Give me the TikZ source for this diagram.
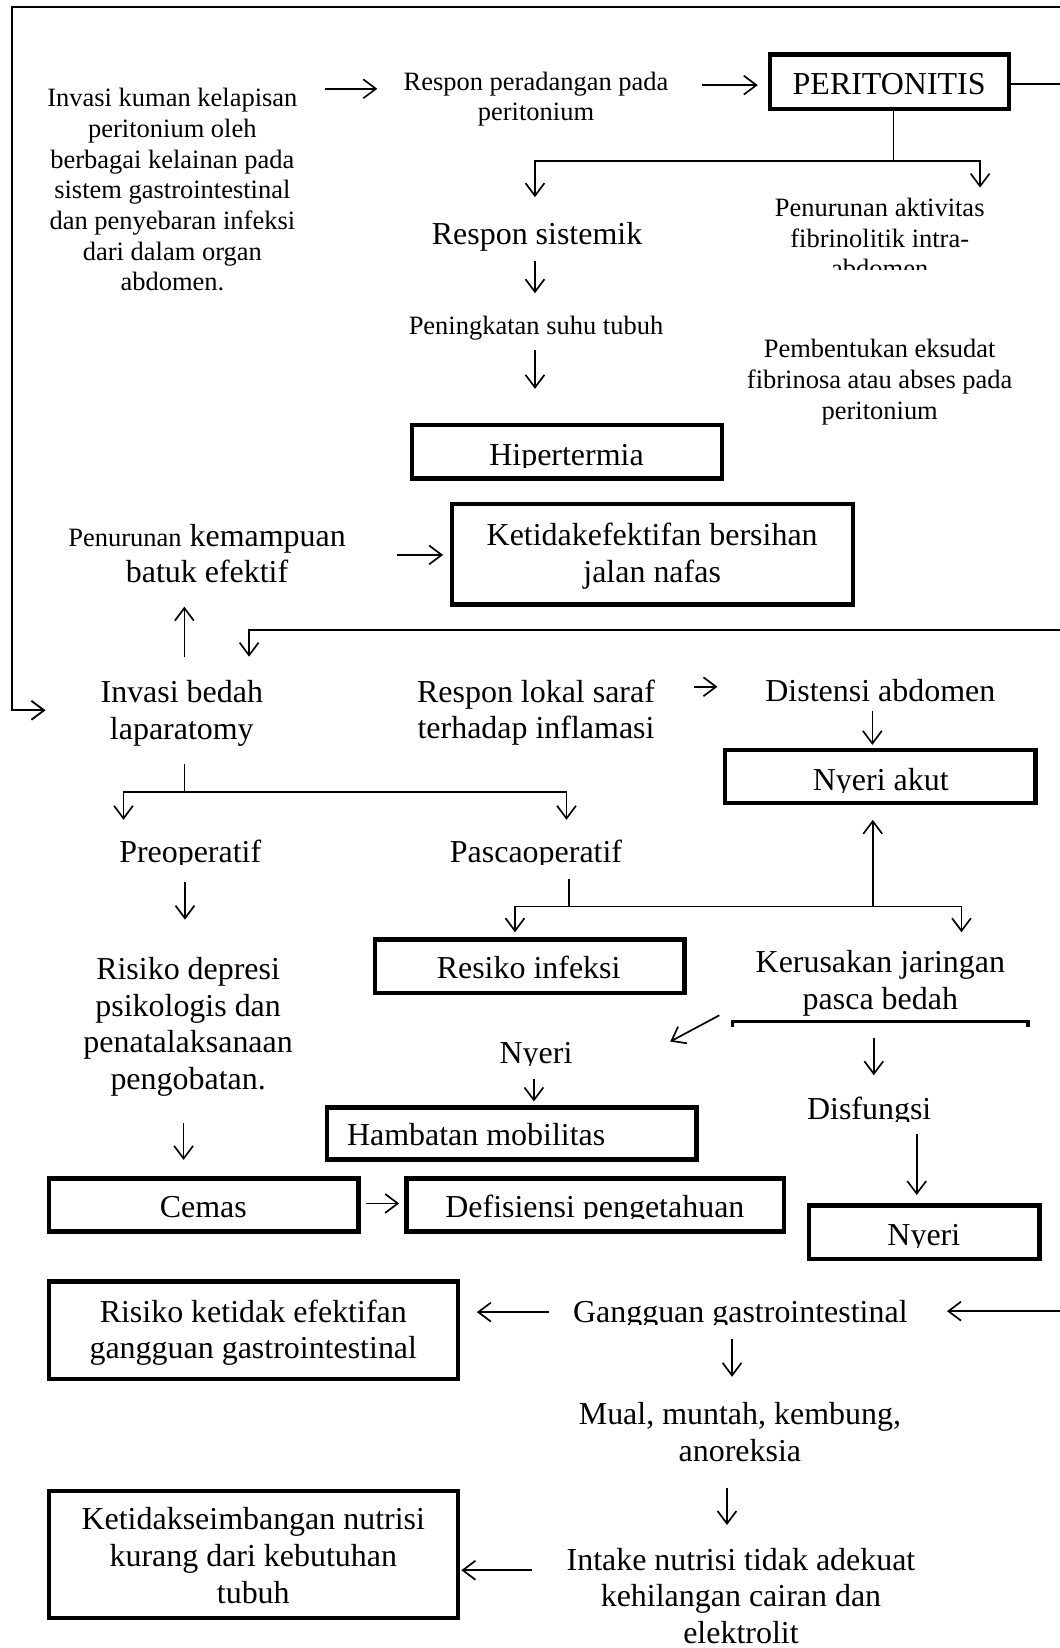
\documentclass[tikz,border=0pt]{standalone}
\usepackage{fontspec}
\setmainfont{Liberation Serif}
\usetikzlibrary{arrows.meta}
\begin{document}
\begin{tikzpicture}[x=1pt,y=-1pt,
  big/.style={font=\fontsize{30.4}{35}\selectfont, inner sep=0pt, align=center, yshift=-3pt,
    execute at begin node=\strut, execute at end node=\strut},
  small/.style={font=\fontsize{25.2}{29.2}\selectfont, inner sep=0pt, align=center, yshift=-3pt,
    execute at begin node=\strut, execute at end node=\strut},
  box/.style={draw, line width=4.2pt, inner sep=0pt},
  conn/.style={line width=1.6pt},
  arr/.style={conn, -{Straight Barb[length=12pt,width=18pt]}},
]
\fill[white] (0,0) rectangle (1008,1568);
\useasboundingbox (0,0) rectangle (1008,1568);

% ---------- boxes ----------
\node[box, minimum width=227.4pt, minimum height=52pt]   (peri)   at (846.5,77.8)  {};
\node[box, minimum width=295.4pt, minimum height=51pt]   (hiper)  at (539.5,429.8) {};
\node[box, minimum width=382pt,   minimum height=95.9pt] (ketid)  at (620.8,527.3) {};
\node[box, minimum width=295.4pt, minimum height=50.4pt] (nakut)  at (837.5,739)   {};
\node[box, minimum width=294.4pt, minimum height=51.1pt] (rinf)   at (504,919.4)   {};
\node[box, minimum width=351.9pt, minimum height=49.4pt] (hamb)   at (486.8,1078.5){};
\node[box, minimum width=294.1pt, minimum height=50.3pt] (cemas)  at (193.9,1146.5){};
\node[box, minimum width=359pt,   minimum height=50.3pt] (defis)  at (566.3,1146.5){};
\node[box, minimum width=219.3pt, minimum height=51pt]   (nyerib) at (879.5,1172.3){};
\node[box, minimum width=389pt,   minimum height=92.8pt] (rket)   at (241.3,1265.6){};
\node[box, minimum width=389pt,   minimum height=120.4pt](ketnut) at (241.3,1479)  {};

% ---------- texts ----------
\node[small] (tkuman) at (164,181.8) {Invasi kuman kelapisan\\peritonium oleh\\berbagai kelainan pada\\sistem gastrointestinal\\dan penyebaran infeksi\\dari dalam organ\\abdomen.};
\node[small] (tresper) at (510,93) {Respon peradangan pada\\peritonium};
\node[big] (tperi) at (846,80) {PERITONITIS};
\node[big] (tsist) at (511,223) {Respon sistemik};
\begin{scope}
  \clip (650,170) rectangle (1000,256);
  \node[small] (tfibr) at (837,227.7) {Penurunan aktivitas\\fibrinolitik intra-\\abdomen};
\end{scope}
\node[small] (tsuhu) at (510,309) {Peningkatan suhu tubuh};
\node[small] (teksu) at (837,362.4) {Pembentukan eksudat\\fibrinosa atau abses pada\\peritonium};
\begin{scope}
  \clip (400,405) rectangle (680,444.5);
  \node[big] (thiper) at (539,433) {Hipertermia};
\end{scope}
\node[big] (tbatuk) at (197,528.7) {{\fontsize{25.2}{29.2}\selectfont Penurunan} kemampuan\\batuk efektif};
\node[big] (tketid) at (620.5,528.3) {Ketidakefektifan bersihan\\jalan nafas};
\node[big] (tbedah) at (173,677.5) {Invasi bedah\\laparatomy};
\node[big] (tlokal) at (510,677) {Respon lokal saraf\\terhadap inflamasi};
\node[big] (tdist) at (837.6,657) {Distensi abdomen};
\begin{scope}
  \clip (700,715) rectangle (980,754);
  \node[big] (tnakut) at (838,742.5) {Nyeri akut};
\end{scope}
\begin{scope}
  \clip (60,780) rectangle (320,822.5);
  \node[big] (tpre) at (181,810.8) {Preoperatif};
\end{scope}
\begin{scope}
  \clip (400,780) rectangle (620,822.5);
  \node[big] (tpasca) at (510,810.8) {Pascaoperatif};
\end{scope}
\node[big] (tdepresi) at (179,975.9) {Risiko depresi\\psikologis dan\\penatalaksanaan\\pengobatan.};
\node[big] (trinf) at (503,921) {Resiko infeksi};
\node[big] (tkerus) at (837.6,934.8) {Kerusakan jaringan\\pasca bedah};
\begin{scope}
  \clip (440,975) rectangle (580,1013.5);
  \node[big] (tnyeria) at (510,1002) {Nyeri};
\end{scope}
\begin{scope}
  \clip (740,1025) rectangle (920,1067);
  \node[big] (tdisf) at (827,1055.6) {Disfungsi};
\end{scope}
\node[big] (thamb) at (453,1080) {Hambatan mobilitas};
\node[big] (tcemas) at (193.5,1148.5) {Cemas};
\begin{scope}
  \clip (390,1122) rectangle (745,1159.5);
  \node[big] (tdefis) at (566,1148) {Defisiensi pengetahuan};
\end{scope}
\begin{scope}
  \clip (775,1148) rectangle (985,1186.5);
  \node[big] (tnyerib) at (879,1175) {Nyeri};
\end{scope}
\node[big] (trket) at (241,1267) {Risiko ketidak efektifan\\gangguan gastrointestinal};
\begin{scope}
  \clip (530,1215) rectangle (880,1260);
  \node[big] (tgang) at (704.4,1248.4) {Gangguan gastrointestinal};
\end{scope}
\node[big] (tmual) at (704,1364.8) {Mual, muntah, kembung,\\anoreksia};
\node[big] (tketnut) at (241,1482) {Ketidakseimbangan nutrisi\\kurang dari kebutuhan\\tubuh};
\node[big] (tintake) at (705,1520.5) {Intake nutrisi tidak adekuat\\kehilangan cairan dan\\elektrolit};

% ---------- coordinates ----------
\coordinate (tr) at (1010,6.7);
\coordinate (tl) at (11,6.7);
\coordinate (lb) at (11,675.8);
\coordinate (lbtip) at (43.4,675.8);
\coordinate (a1s) at (309,84.5);   \coordinate (a1e) at (359,84.5);
\coordinate (a2s) at (668,81);     \coordinate (a2e) at (721,81);
\coordinate (pr) at (1010,80);
\coordinate (j1) at (850,153);
\coordinate (l1) at (509,153);     \coordinate (l1t) at (509,187.6);
\coordinate (r1) at (932.5,153);   \coordinate (r1t) at (932.5,178.5);
\coordinate (a5s) at (509,248);    \coordinate (a5e) at (509,279);
\coordinate (a6s) at (509,333);    \coordinate (a6e) at (509,370);
\coordinate (a7s) at (378,528);    \coordinate (a7e) at (421.6,528);
\coordinate (a8s) at (175.4,625.5);\coordinate (a8e) at (175.4,577.2);
\coordinate (r9) at (1010,599.3);  \coordinate (c9) at (237,599.3);  \coordinate (c9t) at (237,624.8);
\coordinate (a11s) at (660,653.4); \coordinate (a11e) at (682.6,653.4);
\coordinate (a12s) at (830,676.5); \coordinate (a12e) at (830,708.7);
\coordinate (b1) at (175.4,727);   \coordinate (b2) at (175.4,753.7);
\coordinate (bl) at (117.5,753.7); \coordinate (blt) at (117.5,780);
\coordinate (br) at (539,753.7);   \coordinate (brt) at (539,780);
\coordinate (a14s) at (176,839.6); \coordinate (a14e) at (176,875);
\coordinate (p1) at (541.4,836);   \coordinate (p2) at (541.4,862.4);
\coordinate (pl) at (490,862.4);   \coordinate (plt) at (490,887);
\coordinate (pr2) at (914.8,862.4);\coordinate (prt) at (914.8,887);
\coordinate (pu) at (830.4,862.4); \coordinate (put) at (830.4,780);
\coordinate (k1) at (697,977);     \coordinate (k2) at (697,972);
\coordinate (k3) at (978,972);     \coordinate (k4) at (978,977);
\coordinate (d1) at (684.4,966);   \coordinate (d1t) at (637.7,991);
\coordinate (a18s) at (831.4,987.5);\coordinate (a18e) at (831.4,1023);
\coordinate (a19s) at (508,1027);  \coordinate (a19e) at (508,1048);
\coordinate (a20s) at (872.2,1078.6);\coordinate (a20e) at (872.2,1137);
\coordinate (a21s) at (174.7,1068.6);\coordinate (a21e) at (174.7,1103.6);
\coordinate (a22s) at (348.5,1145);\coordinate (a22e) at (379.8,1145);
\coordinate (a23s) at (522.2,1248.4);\coordinate (a23e) at (453.7,1248.4);
\coordinate (a24s) at (1010,1247.5);\coordinate (a24e) at (901,1247.5);
\coordinate (a25s) at (696.5,1274);\coordinate (a25e) at (696.5,1310);
\coordinate (a26s) at (691.7,1415.5);\coordinate (a26e) at (691.7,1451);
\coordinate (a27s) at (506,1494);  \coordinate (a27e) at (439,1494);

% ---------- connectors ----------
\draw[arr, line width=1.8pt] (tr) -- (tl) -- (lb) -- (lbtip);
\draw[arr] (a1s) -- (a1e);
\draw[arr] (a2s) -- (a2e);
\draw[conn] ([yshift=-2.2pt]peri.east) -- (pr);
\draw[conn] ([xshift=3.5pt]peri.south) -- (j1);
\draw[arr] (j1) -- (l1) -- (l1t);
\draw[arr] (j1) -- (r1) -- (r1t);
\draw[arr] (a5s) -- (a5e);
\draw[arr] (a6s) -- (a6e);
\draw[arr] (a7s) -- (a7e);
\draw[arr] (a8s) -- (a8e);
\draw[arr] (r9) -- (c9) -- (c9t);
\draw[arr] (a11s) -- (a11e);
\draw[arr] (a12s) -- (a12e);
\draw[conn] (b1) -- (b2);
\draw[arr] (b2) -- (bl) -- (blt);
\draw[arr] (b2) -- (br) -- (brt);
\draw[arr] (a14s) -- (a14e);
\draw[conn] (p1) -- (p2);
\draw[arr] (p2) -- (pl) -- (plt);
\draw[arr] (p2) -- (pr2) -- (prt);
\draw[arr] (pu) -- (put);
\draw[line width=3.6pt] (k1) -- (k2) -- (k3) -- (k4);
\draw[arr] (d1) -- (d1t);
\draw[arr] (a18s) -- (a18e);
\draw[arr] (a19s) -- (a19e);
\draw[arr] (a20s) -- (a20e);
\draw[arr] (a21s) -- (a21e);
\draw[arr] (a22s) -- (a22e);
\draw[arr] (a23s) -- (a23e);
\draw[arr] (a24s) -- (a24e);
\draw[arr] (a25s) -- (a25e);
\draw[arr] (a26s) -- (a26e);
\draw[arr] (a27s) -- (a27e);
\end{tikzpicture}
\end{document}
